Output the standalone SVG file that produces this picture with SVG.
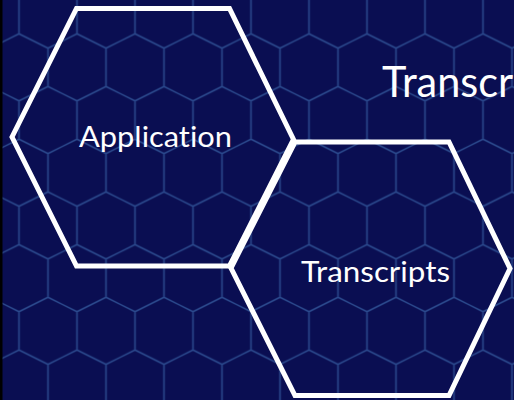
<svg xmlns="http://www.w3.org/2000/svg" width="514" height="400" viewBox="0 0 514 400">
  <defs>
    <pattern id="hexgrid" patternUnits="userSpaceOnUse" x="4.5" y="14.65" width="58" height="105.4">
      <path d="M14.5,-1 V19.15 M14.5,19.15 L43.5,33.55 M14.5,19.15 L-14.5,33.55 M72.5,19.15 L43.5,33.55 M43.5,33.55 V71.85 M43.5,71.85 L14.5,86.25 M43.5,71.85 L72.5,86.25 M-14.5,71.85 L14.5,86.25 M14.5,86.25 V106.4" fill="none" stroke="#2b4a8e" stroke-width="1.5"/>
    </pattern>
    <style>
      .hex { fill: none; stroke: #ffffff; stroke-width: 5; stroke-linejoin: miter; }
      .label { fill: #ffffff; font-family: Lato, "Open Sans", "Liberation Sans", sans-serif; font-variant-ligatures: none; font-feature-settings: "liga" 0, "dlig" 0; }
    </style>
  </defs>
  <rect x="0" y="0" width="514" height="400" fill="#0a0e52"/>
  <rect x="0" y="0" width="514" height="400" fill="url(#hexgrid)"/>
  <rect x="0" y="0" width="2.5" height="400" fill="#000000"/>

  <g id="title">
    <text class="label" x="382" y="97" font-size="42" textLength="131" lengthAdjust="spacingAndGlyphs">Transcr</text>
  </g>

  <g id="application">
    <polygon class="hex" points="12,137 76.5,8.5 229.5,8.5 293.5,139.5 229.5,266 76.5,266"/>
    <text class="label" x="79" y="147" font-size="29" textLength="153" lengthAdjust="spacingAndGlyphs">Application</text>
  </g>

  <g id="transcripts">
    <polygon class="hex" points="231,268 295,142 449,142 510,268.5 449,395.5 295,395.5"/>
    <text class="label" x="301" y="281.5" font-size="29" textLength="149" lengthAdjust="spacingAndGlyphs">Transcripts</text>
  </g>

  <g id="connectors"/>
</svg>
